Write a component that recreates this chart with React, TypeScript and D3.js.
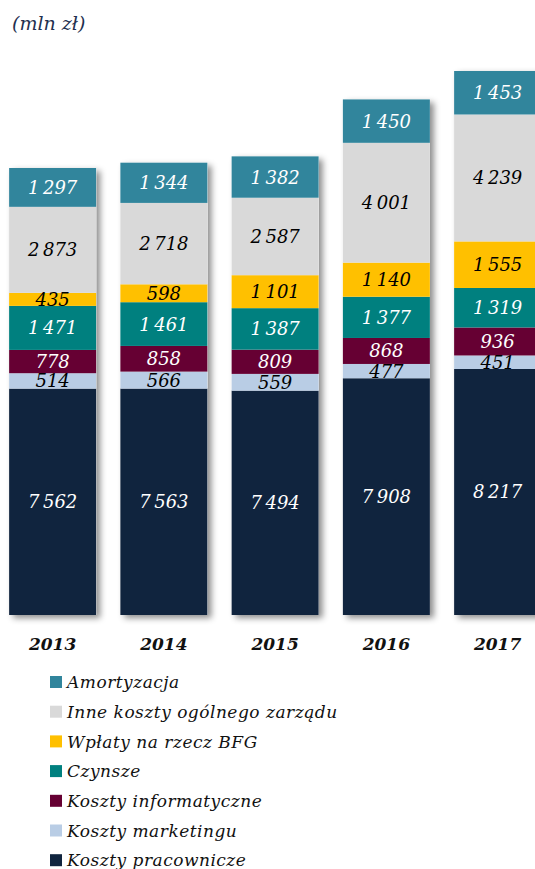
import React from "react";
import * as d3 from "d3";

const years = ["2013", "2014", "2015", "2016", "2017"];
const seriesNames = [
  "Koszty pracownicze",
  "Koszty marketingu",
  "Koszty informatyczne",
  "Czynsze",
  "Wpłaty na rzecz BFG",
  "Inne koszty ogólnego zarządu",
  "Amortyzacja",
];
const pracownicze = [7562, 7563, 7494, 7908, 8217];
const marketing = [514, 566, 559, 477, 451];
const informatyczne = [778, 858, 809, 868, 936];
const czynsze = [1471, 1461, 1387, 1377, 1319];
const bfg = [435, 598, 1101, 1140, 1555];
const inne = [2873, 2718, 2587, 4001, 4239];
const amortyzacja = [1297, 1344, 1382, 1450, 1453];
const seriesValues = [pracownicze, marketing, informatyczne, czynsze, bfg, inne, amortyzacja];

const colors = ["#10243E", "#B9CDE5", "#660033", "#00807F", "#FFC000", "#D9D9D9", "#31859C"];
const labelColors = ["#ffffff", "#000000", "#ffffff", "#ffffff", "#000000", "#000000", "#ffffff"];
const legendOrder = [6, 5, 4, 3, 2, 1, 0];

const fmt = d3.formatLocale({ decimal: ",", thousands: "\u2009", grouping: [3], currency: ["", ""] }).format(",d");

export default function App() {
  const W = 535, H = 869;
  const rows = years.map((y, i) => {
    const r: any = { year: y };
    seriesNames.forEach((s, k) => (r[s] = seriesValues[k][i]));
    return r;
  });
  const stack = d3.stack().keys(seriesNames)(rows);
  const maxTotal = d3.max(rows, (r: any) => d3.sum(seriesNames, (s) => r[s])) as number;
  const x = d3.scaleBand().domain(years).range([-3, 553.25]).paddingInner(0.218).paddingOuter(0.109);
  const y = d3.scaleLinear().domain([0, maxTotal]).range([615, 71]);
  const font = "'DejaVu Serif', serif";

  return (
    <svg width={W} height={H} style={{ position: "absolute", left: 0, top: 0 }}>
      <defs>
        <filter id="sh" x="-20%" y="-10%" width="150%" height="130%">
          <feDropShadow dx="4" dy="3" stdDeviation="3" floodColor="#000" floodOpacity="0.45" />
        </filter>
      </defs>
      <rect width={W} height={H} fill="#fff" />
      <text x={12} y={30} fontFamily={font} fontStyle="italic" fontSize={19} fill="#1F3050">
        (mln zł)
      </text>
      {years.map((yr, i) => {
        const top = y(d3.sum(seriesValues, (v) => v[i]));
        return (
          <rect key={"s" + yr} x={x(yr)} y={top} width={x.bandwidth()} height={y(0) - top} fill="#fff" filter="url(#sh)" />
        );
      })}
      {stack.map((layer, k) =>
        layer.map((d: any, i) => (
          <rect
            key={k + "-" + i}
            x={x(years[i])}
            y={y(d[1])}
            width={x.bandwidth()}
            height={y(d[0]) - y(d[1])}
            fill={colors[k]}
          />
        ))
      )}
      {stack.map((layer, k) =>
        layer.map((d: any, i) => (
          <text
            key={"t" + k + "-" + i}
            x={(x(years[i]) as number) + x.bandwidth() / 2}
            y={(y(d[0]) + y(d[1])) / 2}
            dy="0.36em"
            textAnchor="middle"
            fontFamily={font}
            fontStyle="italic"
            fontSize={18}
            fill={labelColors[k]}
          >
            {fmt(seriesValues[k][i])}
          </text>
        ))
      )}
      {years.map((yr) => (
        <text
          key={"y" + yr}
          x={(x(yr) as number) + x.bandwidth() / 2}
          y={650}
          textAnchor="middle"
          fontFamily={font}
          fontStyle="italic"
          fontWeight="bold"
          fontSize={17}
          fill="#111"
        >
          {yr}
        </text>
      ))}
      {legendOrder.map((k, j) => (
        <g key={"l" + k} transform={`translate(50, ${682 + j * 29.7})`}>
          <rect x={0} y={-6} width={12} height={12} fill={colors[k]} />
          <text x={17} y={0} dy="0.36em" fontFamily={font} fontStyle="italic" fontSize={17} letterSpacing={0.5} fill="#111">
            {seriesNames[k]}
          </text>
        </g>
      ))}
    </svg>
  );
}
